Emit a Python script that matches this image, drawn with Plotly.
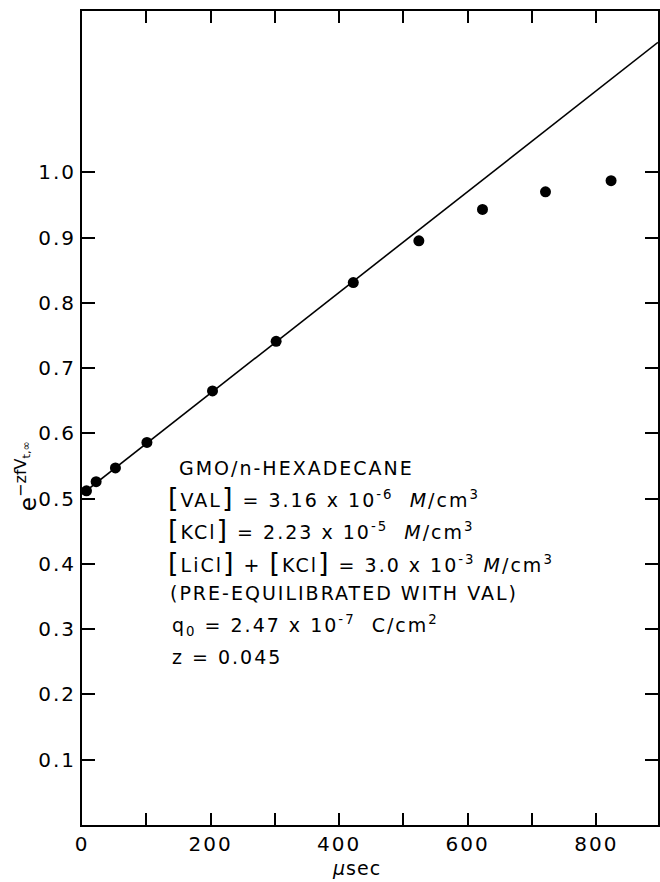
import plotly.graph_objects as go

# Data
t_us = [7, 22, 52, 101, 203, 302, 422, 524, 623, 721, 823]
value = [0.512, 0.526, 0.547, 0.586, 0.665, 0.741, 0.831, 0.895, 0.943, 0.970, 0.987]
fit_x = [0, 896]
fit_y = [0.507, 1.199]

x_tickvals = [0, 100, 200, 300, 400, 500, 600, 700, 800]
x_ticktext = ["0", "", "200", "", "400", "", "600", "", "800"]
y_tickvals = [0.1, 0.2, 0.3, 0.4, 0.5, 0.6, 0.7, 0.8, 0.9, 1.0]
y_ticktext = ["0.1", "0.2", "0.3", "0.4", "0.5", "0.6", "0.7", "0.8", "0.9", "1.0"]

FONT = "DejaVu Sans"

def spaced(s, px=2):
    if not s:
        return s
    return f'<span style="letter-spacing:{px}px">{s}</span>'

fig = go.Figure()
fig.add_trace(go.Scatter(x=fit_x, y=fit_y, mode="lines",
                         line=dict(color="black", width=1.6), showlegend=False))
fig.add_trace(go.Scatter(x=t_us, y=value, mode="markers",
                         marker=dict(color="black", size=11), showlegend=False))

W, H = 660, 882
L, R, T, B = 82, 0, 11, 57

fig.update_layout(
    width=W, height=H,
    margin=dict(l=L, r=R, t=T, b=B),
    paper_bgcolor="white", plot_bgcolor="white",
    font=dict(family=FONT, color="black", size=20),
    xaxis=dict(range=[0, 896], tickvals=x_tickvals,
               ticktext=[spaced(t) for t in x_ticktext],
               ticks="inside", ticklen=12, tickwidth=1.5, tickcolor="black",
               showline=True, linecolor="black", linewidth=2, mirror="ticks",
               showgrid=False, zeroline=False,
               tickfont=dict(family=FONT, size=20)),
    yaxis=dict(range=[0, 1.247], tickvals=y_tickvals,
               ticktext=[spaced(t) for t in y_ticktext],
               ticks="inside", ticklen=13, tickwidth=1.5, tickcolor="black",
               showline=True, linecolor="black", linewidth=2, mirror="ticks",
               showgrid=False, zeroline=False,
               tickfont=dict(family=FONT, size=20)),
)

def px_x(p):
    return (p - L) / (W - L - R)

def px_y(p):
    return (H - B - p) / (H - B - T)

# axis titles
fig.add_annotation(text=spaced("<i>μ</i>sec", 1), xref="paper", yref="paper",
                   x=px_x(357), y=px_y(868), xanchor="center", yanchor="middle",
                   showarrow=False, font=dict(family=FONT, size=19))
fig.add_annotation(text="e<sup>−zfV<sub>t,∞</sub></sup>", xref="paper", yref="paper",
                   x=px_x(26), y=px_y(476), xanchor="center", yanchor="middle",
                   textangle=-90, showarrow=False, font=dict(family=FONT, size=23))

BR = '<span style="font-size:27px">{}</span>'
lb, rb = BR.format("["), BR.format("]")
lines = [
    (177, 468, "GMO/n-HEXADECANE"),
    (166, 497, f"{lb}VAL{rb} = 3.16 x 10<sup>-6</sup>  <i>M</i>/cm<sup>3</sup>"),
    (166, 529, f"{lb}KCl{rb} = 2.23 x 10<sup>-5</sup>  <i>M</i>/cm<sup>3</sup>"),
    (166, 562, f"{lb}LiCl{rb} + {lb}KCl{rb} = 3.0 x 10<sup>-3</sup> <i>M</i>/cm<sup>3</sup>"),
    (168, 593, "(PRE-EQUILIBRATED WITH VAL)"),
    (170, 625, "q<sub>0</sub> = 2.47 x 10<sup>-7</sup>  C/cm<sup>2</sup>"),
    (170, 657, "z = 0.045"),
]
for xp, yp, txt in lines:
    fig.add_annotation(text=spaced(txt, 2), xref="paper", yref="paper",
                       x=px_x(xp), y=px_y(yp), xanchor="left", yanchor="middle",
                       showarrow=False, font=dict(family=FONT, size=19))

fig.write_html("out.html")
